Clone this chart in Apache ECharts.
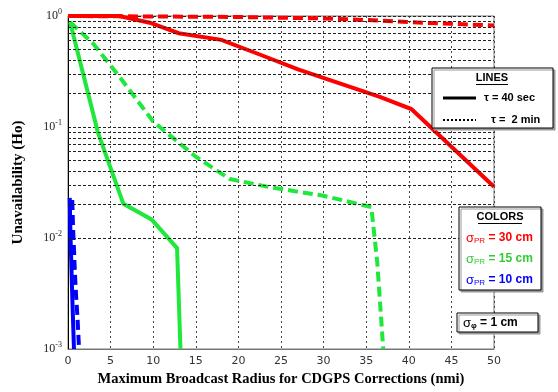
<!DOCTYPE html>
<html><head><meta charset="utf-8">
<script src="https://cdn.jsdelivr.net/npm/echarts@6/dist/echarts.min.js"></script>
<style>html,body{margin:0;padding:0;background:#fff}#c{width:558px;height:392px}</style>
</head><body><div id="c"></div>
<script>
// ---- data ----
const xTickLabels = ['0','5','10','15','20','25','30','35','40','45','50'];
const yTickValues = [0.001, 0.01, 0.1, 1];
const yMinorGrid = [0.002,0.003,0.004,0.005,0.006,0.007,0.008,0.009,
                    0.02,0.03,0.04,0.05,0.06,0.07,0.08,0.09,
                    0.2,0.3,0.4,0.5,0.6,0.7,0.8,0.9];
// sigma_PR = 30 cm
const red40s = [[0,1],[6,1],[9.6,0.87],[13,0.70],[18,0.61],[22.5,0.45],[27,0.33],[36.6,0.187],[40.3,0.145],[50,0.029]];
const red2m  = [[0,1],[20,0.98],[30,0.95],[35,0.92],[40,0.88],[45,0.85],[50,0.82]];
// sigma_PR = 15 cm
const green40s = [[0.25,0.88],[3.5,0.09],[6.5,0.0203],[9.8,0.0147],[12.8,0.0081],[13.2,0.001]];
const green2m  = [[0.25,0.88],[2.9,0.57],[6.1,0.28],[10,0.112],[15,0.054],[19,0.034],[23.7,0.0287],[30,0.024],[35.6,0.019],[36.3,0.006],[37,0.001]];
// sigma_PR = 10 cm
const blue40s = [[0.2,0.023],[0.3,0.01],[0.5,0.003],[0.7,0.001]];
const blue2m  = [[0.5,0.022],[0.6,0.012],[0.7,0.008],[0.8,0.005],[0.95,0.003],[1.1,0.002],[1.3,0.001]];

const RED='#ff0000', GREEN='#1ee83c', BLUE='#0000ff';
const chart = echarts.init(document.getElementById('c'), null, {renderer:'canvas'});

function lineSeries(data, color, dashed, z){
  return {type:'line', data:data, showSymbol:false, symbol:'none', z:z||3,
    lineStyle:{color:color, width:4, type: dashed ? [10,5] : 'solid', cap:'butt', join:'miter'},
    animation:false, silent:true};
}

const expMap = {'1':'0','0.1':'-1','0.01':'-2','0.001':'-3'};

chart.setOption({
  animation:false,
  backgroundColor:'#fff',
  grid:{left:68, right:64, top:16, bottom:43, show:true, borderColor:'#777', borderWidth:1, backgroundColor:'transparent'},
  xAxis:{type:'value', min:0, max:50, interval:5,
    axisLine:{show:true, lineStyle:{color:'#777', width:1}},
    axisTick:{show:false},
    axisLabel:{margin:7, color:'#333', fontSize:11, fontFamily:'DejaVu Sans', formatter:(v)=>xTickLabels[Math.round(v/5)]},
    splitLine:{show:true, lineStyle:{color:'#444', width:1, type:[2,3]}},
    name:'Maximum Broadcast Radius for CDGPS Corrections (nmi)', nameLocation:'middle', nameGap:23,
    nameTextStyle:{fontFamily:'Liberation Serif', fontWeight:'bold', fontSize:14.5, color:'#000'}
  },
  yAxis:{type:'log', logBase:10, min:0.001, max:1,
    axisLine:{show:true, onZero:false, lineStyle:{color:'#000', width:1}},
    axisTick:{show:false},
    axisLabel:{margin:6, formatter:(v)=>{const e=expMap[String(v)]; return e===undefined?'':'{b|10}{s|'+e+'}';},
      rich:{b:{fontFamily:'Liberation Serif', fontSize:12, color:'#222'}, s:{fontFamily:'Liberation Serif', fontSize:8, color:'#222', verticalAlign:'top', padding:[0,0,8,0]}}},
    splitLine:{show:true, lineStyle:{color:'#222', width:1, type:[3,2]}},
    name:'Unavailability (Ho)', nameLocation:'middle', nameGap:42, nameRotate:90,
    nameTextStyle:{fontFamily:'Liberation Serif', fontWeight:'bold', fontSize:15, color:'#000'}
  },
  series:[
    {type:'line', data:[[0,0.001]], symbol:'none', z:1, silent:true, lineStyle:{width:0},
      markLine:{silent:true, symbol:'none', label:{show:false}, animation:false,
        lineStyle:{color:'#222', width:1, type:[3,2]},
        data: yMinorGrid.map(v=>({yAxis:v}))}},
    lineSeries(red40s, RED, false),
    lineSeries(red2m, RED, true, 4),
    lineSeries(green2m, GREEN, true),
    lineSeries(green40s, GREEN, false),
    lineSeries(blue2m, BLUE, true),
    lineSeries(blue40s, BLUE, false)
  ],
  graphic:[
    // LINES box
    {type:'rect', z:100, shape:{x:432, y:68, width:121, height:60}, style:{fill:'#fff', stroke:'#000', lineWidth:1, shadowColor:'#999', shadowOffsetX:2, shadowOffsetY:2}},
    {type:'text', z:101, style:{x:492, y:78, text:'LINES', font:'bold 11px "Liberation Sans"', fill:'#000', align:'center', verticalAlign:'middle'}},
    {type:'line', z:101, shape:{x1:476, y1:84.5, x2:508, y2:84.5}, style:{stroke:'#000', lineWidth:1}},
    {type:'line', z:101, shape:{x1:443, y1:98, x2:476, y2:98}, style:{stroke:'#000', lineWidth:3}},
    {type:'text', z:101, style:{x:484, y:98, text:'τ = 40 sec', font:'bold 11px "Liberation Sans"', fill:'#000', align:'left', verticalAlign:'middle'}},
    {type:'line', z:101, shape:{x1:443, y1:120, x2:476, y2:120}, style:{stroke:'#000', lineWidth:2, lineDash:[2,2]}},
    {type:'text', z:101, style:{x:491, y:120, text:'τ =  2 min', font:'bold 11px "Liberation Sans"', fill:'#000', align:'left', verticalAlign:'middle'}},
    // COLORS box
    {type:'rect', z:100, shape:{x:459, y:207, width:82, height:83}, style:{fill:'#fff', stroke:'#000', lineWidth:1, shadowColor:'#999', shadowOffsetX:2, shadowOffsetY:2}},
    {type:'text', z:101, style:{x:500, y:217, text:'COLORS', font:'bold 11px "Liberation Sans"', fill:'#000', align:'center', verticalAlign:'middle'}},
    {type:'line', z:101, shape:{x1:478, y1:223.5, x2:522, y2:223.5}, style:{stroke:'#000', lineWidth:1}},
    {type:'text', z:101, style:{x:466, y:238, text:'{s|σ}{u|PR}{t| = 30 cm}', fill:RED, align:'left', verticalAlign:'middle',
      rich:{s:{font:'13px "Liberation Sans"', fill:RED}, u:{font:'8px "Liberation Sans"', fill:RED, verticalAlign:'bottom', padding:[6,0,0,0]}, t:{font:'bold 12px "Liberation Sans"', fill:RED}}}},
    {type:'text', z:101, style:{x:466, y:259, text:'{s|σ}{u|PR}{t| = 15 cm}', fill:'#33cc33', align:'left', verticalAlign:'middle',
      rich:{s:{font:'13px "Liberation Sans"', fill:'#33cc33'}, u:{font:'8px "Liberation Sans"', fill:'#33cc33', verticalAlign:'bottom', padding:[6,0,0,0]}, t:{font:'bold 12px "Liberation Sans"', fill:'#33cc33'}}}},
    {type:'text', z:101, style:{x:466, y:280, text:'{s|σ}{u|PR}{t| = 10 cm}', fill:BLUE, align:'left', verticalAlign:'middle',
      rich:{s:{font:'13px "Liberation Sans"', fill:BLUE}, u:{font:'8px "Liberation Sans"', fill:BLUE, verticalAlign:'bottom', padding:[6,0,0,0]}, t:{font:'bold 12px "Liberation Sans"', fill:BLUE}}}},
    // sigma phi box
    {type:'rect', z:100, shape:{x:457, y:313, width:81, height:19}, style:{fill:'#fff', stroke:'#000', lineWidth:1, shadowColor:'#999', shadowOffsetX:2, shadowOffsetY:2}},
    {type:'text', z:101, style:{x:463, y:323, text:'{s|σ}{u|φ}{t| = 1 cm}', fill:'#000', align:'left', verticalAlign:'middle',
      rich:{s:{font:'13px "Liberation Sans"', fill:'#000'}, u:{font:'bold 8px "Liberation Sans"', fill:'#000', verticalAlign:'bottom', padding:[6,0,0,0]}, t:{font:'bold 12px "Liberation Sans"', fill:'#000'}}}}
  ]
});
</script></body></html>
